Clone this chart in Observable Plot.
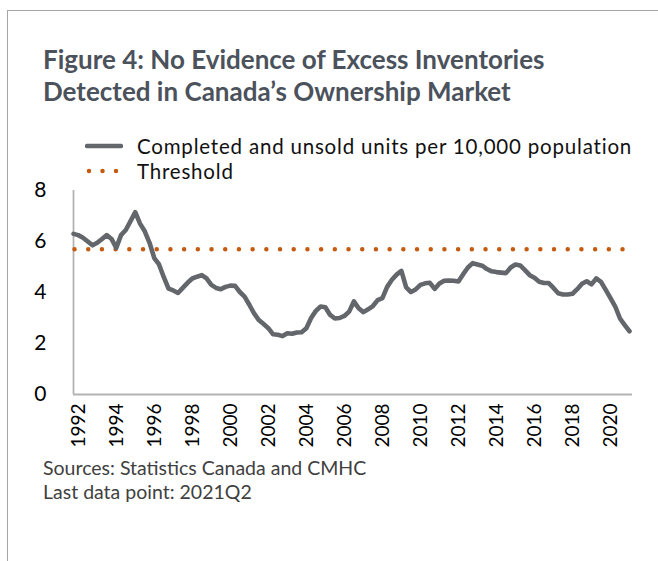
<!DOCTYPE html>
<html><head><meta charset="utf-8">
<script src="https://cdn.jsdelivr.net/npm/d3@7"></script>
<script src="https://cdn.jsdelivr.net/npm/@observablehq/plot@0.6"></script>
<style>
body{margin:0;background:#fff;font-family:Lato,"Open Sans",sans-serif;}
#wrap{position:relative;width:658px;height:561px;overflow:hidden;}
#frame{position:absolute;left:7px;top:10px;width:700px;height:600px;border-left:1.5px solid #a6a6a6;border-top:1.5px solid #a6a6a6;}
#title{position:absolute;left:43px;top:43px;font-size:26px;font-weight:700;color:#4b525c;line-height:32px;white-space:nowrap;}
#legend{position:absolute;left:85px;top:134px;font-size:20.5px;letter-spacing:0.8px;color:#111;white-space:nowrap;}
.row{display:flex;align-items:center;height:24.8px;line-height:24.8px;}
.row svg{margin-right:14px;}
#chart{position:absolute;left:0;top:175px;}
#foot{position:absolute;left:43px;top:456px;font-size:19.5px;color:#404040;line-height:24px;white-space:nowrap;}
</style></head>
<body>
<div id="wrap">
<div id="frame"></div>
<div id="title">Figure 4: No Evidence of Excess Inventories<br>Detected in Canada’s Ownership Market</div>
<div id="legend">
 <div class="row"><svg width="38" height="10"><line x1="2" y1="5" x2="36" y2="5" stroke="#63666a" stroke-width="4.5" stroke-linecap="round"/></svg>Completed and unsold units per 10,000 population</div>
 <div class="row"><svg width="38" height="10"><line x1="4" y1="5" x2="34" y2="5" stroke="#c55a11" stroke-width="4.5" stroke-linecap="round" stroke-dasharray="0,13.5"/></svg>Threshold</div>
</div>
<div id="chart"></div>
<div id="foot">Sources: Statistics Canada and CMHC<br>Last data point: 2021Q2</div>
</div>
<script>
const startYear = 1992;
const tickYears = [1992,1994,1996,1998,2000,2002,2004,2006,2008,2010,2012,2014,2016,2018,2020];
const yTicks = [0,2,4,6,8];
const threshold = 5.7;
// Completed and unsold units per 10,000 population, quarterly 1992Q1 - 2021Q2
const units = [
 6.3,6.25,6.15,6.0, 5.85,5.95,6.1,6.25, 6.1,5.75,6.25,6.45, 6.8,7.15,6.7,6.4,
 5.95,5.35,5.1,4.6, 4.15,4.08,3.98,4.18, 4.38,4.55,4.62,4.68, 4.55,4.3,4.18,4.13,
 4.22,4.27,4.26,4.02, 3.84,3.52,3.18,2.92, 2.76,2.6,2.36,2.34, 2.29,2.4,2.38,2.43,
 2.44,2.6,3.0,3.28, 3.45,3.42,3.12,2.98, 3.0,3.08,3.25,3.65, 3.38,3.23,3.34,3.47,
 3.7,3.78,4.22,4.5, 4.7,4.85,4.2,4.02, 4.12,4.3,4.36,4.38, 4.14,4.35,4.46,4.47,
 4.46,4.43,4.72,4.98, 5.15,5.1,5.05,4.92, 4.83,4.8,4.78,4.76, 4.98,5.1,5.06,4.88,
 4.68,4.58,4.42,4.37, 4.37,4.18,3.97,3.92, 3.92,3.95,4.13,4.34, 4.44,4.32,4.55,4.42,
 4.1,3.78,3.45,2.98, 2.72,2.48
];
const data = units.map((v,i)=>({t: startYear + i/4, v}));
const tEnd = data[data.length-1].t;

const chart = Plot.plot({
  width: 658,
  height: 290,
  marginLeft: 73,
  marginRight: 29,
  marginTop: 15,
  marginBottom: 71,
  style: {fontFamily: "Lato, 'Open Sans', sans-serif", fontSize: "19px", color: "#000", background: "transparent"},
  x: {domain: [startYear, tEnd], label: null},
  y: {domain: [0, 8], label: null},
  marks: [
    Plot.axisY({ticks: yTicks, tickSize: 0, tickPadding: 27, fontSize: 21, tickFormat: d=>String(d), label: null}),
    Plot.axisX({ticks: tickYears, tickSize: 0, tickPadding: 9, tickRotate: -90, fontSize: 19, dx: 5, tickFormat: d=>String(d), label: null}),
    Plot.ruleX([startYear], {y1: 0, y2: 8, stroke: "#b3b3b3", strokeWidth: 1.8}),
    Plot.ruleY([0], {x1: startYear, x2: tEnd + 0.16, stroke: "#b3b3b3", strokeWidth: 1.8}),
    Plot.ruleY([threshold], {x1: startYear + 0.08, x2: tEnd, stroke: "#c55a11", strokeWidth: 4.5, strokeLinecap: "round", strokeDasharray: "0,13.7"}),
    Plot.line(data, {x: "t", y: "v", stroke: "#63666a", strokeWidth: 4.6, strokeLinejoin: "round", strokeLinecap: "round"})
  ]
});
document.getElementById("chart").appendChild(chart);
</script>
</body></html>
